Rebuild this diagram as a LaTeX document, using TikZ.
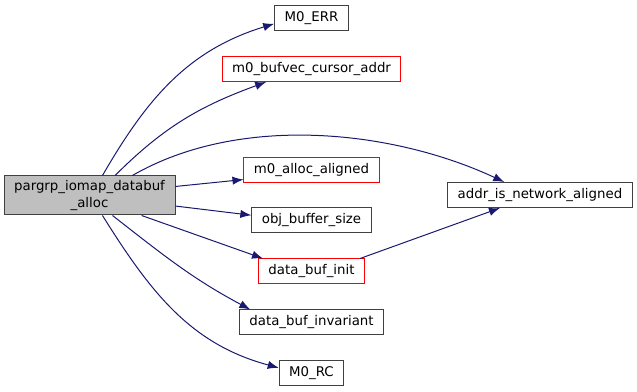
\documentclass[tikz,border=0pt]{standalone}
\usepackage{fontspec}
\setmainfont{DejaVu Sans}
\usepackage{tikz}
\usetikzlibrary{arrows.meta}
\definecolor{edgeblue}{RGB}{25, 25, 112}
\definecolor{rootgray}{RGB}{191, 191, 191}
\definecolor{boxgray}{RGB}{64, 64, 64}
\tikzset{>={Latex[length=8.25pt, width=6.25pt]}}
\tikzset{fn/.style={draw=boxgray, line width=0.75pt, fill=white, minimum height=18.75pt, inner xsep=7.5pt, inner ysep=0pt, font=\fontsize{10}{12}\selectfont}}
\tikzset{fnred/.style={fn, draw=red}}
\tikzset{call/.style={->, draw=edgeblue, line width=0.75pt}}

\begin{document}
\begin{tikzpicture}[x=0.75pt, y=0.75pt]
\useasboundingbox (0,0) rectangle (637,-392);

% caller
\node[fn, fill=rootgray, minimum width=128.25pt, minimum height=29.25pt, align=center, font=\fontsize{10}{12.5}\selectfont] (root) at (89.5,-195.5) {pargrp\_iomap\_databuf\\\_alloc};

% callees
\node[fn] (m0err) at (311.5,-18.5) {M0\_ERR};
\node[fnred] (bufvec) at (311.5,-69) {m0\_bufvec\_cursor\_addr};
\node[fnred] (alloc) at (311.5,-170) {m0\_alloc\_aligned};
\node[fn] (objsize) at (311.5,-220.5) {obj\_buffer\_size};
\node[fnred] (bufinit) at (311.5,-271.5) {data\_buf\_init};
\node[fn] (invariant) at (311.5,-322.5) {data\_buf\_invariant};
\node[fn] (rc) at (311.5,-373) {M0\_RC};
\node[fn] (addr) at (540,-195) {addr\_is\_network\_aligned};

% calls
\draw[call] (root.57) to[out=60, in=197] (m0err.188);
\draw[call] (root.38) to[out=45, in=200] (bufvec.196);
\draw[call] (root.25) to[out=30, in=155, looseness=0.85] (addr.160);
\draw[call] (root.6) -- (alloc.188);
\draw[call] (root.-7) -- (objsize.175);
\draw[call] (root.-21) -- (bufinit.165);
\draw[call] (root.-41) to[out=-38, in=152] (invariant.168);
\draw[call] (root.-57) to[out=-58, in=165] (rc.171);
\draw[call] (bufinit.15) -- (addr.198);
\end{tikzpicture}
\end{document}
